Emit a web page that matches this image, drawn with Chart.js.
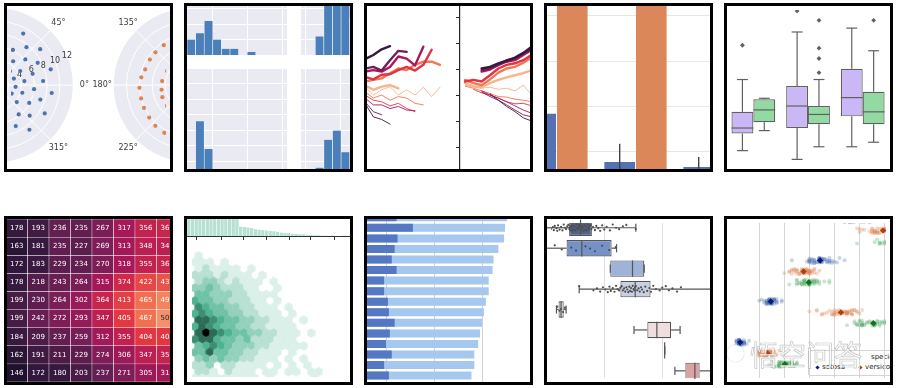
<!DOCTYPE html>
<html lang="en">
<head>
<meta charset="utf-8">
<title>seaborn gallery</title>
<script src="https://cdn.jsdelivr.net/npm/chart.js@4.4.1/dist/chart.umd.min.js"></script>
<style>
  html, body { margin: 0; padding: 0; background: #fff; }
  #page { position: relative; width: 898px; height: 388px; overflow: hidden; }
  .panel { position: absolute; width: 169px; height: 169px; box-sizing: border-box;
           border: 3px solid #000; overflow: hidden; background: #fff; }
  .panel canvas { position: absolute; }
  .legend { position: absolute; left: 81px; top: 131px; width: 120px; height: 24px;
            border: 1px solid #d4d4d4; border-radius: 2px; background: rgba(255,255,255,0.85);
            font: 7px "DejaVu Sans", sans-serif; color: #262626; }
  .legend span { position: absolute; white-space: nowrap; }
  .legend i { position: absolute; width: 3px; height: 3px; transform: rotate(45deg); }
  #logo { position: absolute; left: 727px; top: 345px; width: 13px; height: 13px; border-radius: 50%;
          border: 2px solid rgba(255,255,255,0.85); box-shadow: 0 0 1px rgba(70,70,70,0.6); }
  #mark { position: absolute; left: 750px; top: 334px; font: 28px "Noto Sans CJK SC", sans-serif;
          color: rgba(255,255,255,0.8); -webkit-text-stroke: 0.7px rgba(80,80,80,0.35); }
</style>
</head>
<body>
<div id="page">
  <div class="panel" style="left:4px;top:3px"></div>
  <div class="panel" style="left:184px;top:3px"></div>
  <div class="panel" style="left:364px;top:3px"></div>
  <div class="panel" style="left:544px;top:3px"></div>
  <div class="panel" style="left:724px;top:3px"></div>
  <div class="panel" style="left:4px;top:216px"></div>
  <div class="panel" style="left:184px;top:216px"></div>
  <div class="panel" style="left:364px;top:216px"></div>
  <div class="panel" style="left:544px;top:216px"></div>
  <div class="panel" style="left:724px;top:216px">
    <div class="legend">
      <span style="left:62px;top:2px">species</span>
      <i style="left:7px;top:15px;background:#001c7f"></i><span style="left:13px;top:12px">setosa</span>
      <i style="left:50px;top:15px;background:#b1400d"></i><span style="left:56px;top:12px">versicolor</span>
      <i style="left:100px;top:15px;background:#12711c"></i><span style="left:106px;top:12px">virginica</span>
    </div>
  </div>
  <div id="logo"></div>
  <div id="mark">悟空问答</div>
</div>

<script>
Chart.defaults.font.family = '"DejaVu Sans", sans-serif';

// ---------- data ----------

// 1: polar facets (radius, angle in degrees)
const polarBlueR = [9.1, 7.6, 8.9, 6.1, 6.1, 4.6, 7.4, 8.9, 3.1, 4.4, 6.0, 3.0, 4.5, 7.4, 3.1, 6.0, 8.8, 2.8, 4.3, 4.2, 5.9, 7.3, 5.8, 7.1, 8.8, 7.1, 8.7];
const polarBlueDeg = [62, 51, 39, 64, 41, 54, 28, 16, 45, 30, 17, 20, 8, 5, 355, 354, 352, 332, 344, 321, 332, 342, 308, 318, 330, 296, 307];
const polarOrangeR = [7.5, 7.5, 7.5, 7.5, 7.8, 8.0, 8.0, 8.1, 8.2, 8.4, 8.5, 4.3, 4.5, 4.6, 4.8, 4.9];
const polarOrangeDeg = [124, 137, 148, 161, 171, 183, 195, 206, 218, 229, 241, 149, 172, 189, 203, 221];
const polarRings = [2, 4, 6, 8, 10, 12];
const polarRingLabels = [4, 6, 8, 10, 12];
const polarAngles = [0, 45, 90, 135, 180, 225, 270, 315];

// 2: facet histograms, counts per bin
const histTopLeft = [5, 7, 11, 5, 2, 2, 0, 1];
const histTopRight = [6, 18, 21, 17, 12];
const histBottomLeft = [0, 18, 9];
const histBottomRight = [3, 12, 15, 8];
const histGridLeft = [2.41, 6.48, 10.55];
const histGridRight = [-1.58, 2.49];
const histCountTicks = [5, 10, 15, 20, 25, 30];

// 3: firing rate lines (thick = T1, thin = T2), dark -> light coherence
const timeLeft = [0, 1, 2, 3, 4, 5, 6, 7, 8, 9];
const timeRight = [0, 1, 2, 3, 4, 5, 6, 7, 8];
const rateTicks = [35, 40, 45, 50, 55, 60];
const leftThick = [
  [51.9, 52.7, 53.8, 54.4],
  [50.1, 50.4, 49.7, 51.7, 53.5, 53.3],
  [49.5, 49.8, 49.5, 50.4, 52.4, 52.0, 50.7, 54.3],
  [48.5, 48.0, 48.9, 49.0, 49.8, 50.4, 49.7, 50.8, 53.7],
  [47.6, 47.9, 48.2, 49.2, 50.1, 49.8, 50.8, 51.4, 51.4, 50.8],
  [46.9, 46.0, 46.6, 46.9, 46.3]
];
const leftThin = [
  [43.4, 40.8, 40.3, 39.4],
  [43.7, 41.8, 41.2],
  [44.4, 43.1, 43.1, 42.4, 42.8, 42.1, 42.0],
  [45.0, 44.0, 43.7, 42.9, 43.4, 42.4, 41.8],
  [45.6, 44.4, 45.0, 44.0, 44.7, 44.4, 43.4, 43.1],
  [46.6, 45.0, 46.0, 46.6, 45.0, 46.0, 45.0, 46.5, 44.7, 46.5]
];
const rightThick = [
  [null, null, 50.1, 50.4, 51.1, 51.6, 52.2, 53.1, 54.3],
  [null, null, 49.8, 50.1, 50.8, 51.7, 52.0, 53.0, 53.8],
  [null, null, 49.5, 49.9, 50.8, 51.4, 51.7, 52.7, 53.7],
  [47.6, 47.9, 47.6, 48.8, 50.1, 50.8, 51.1, 51.7, 52.7],
  [47.9, 47.3, 46.9, 48.0, 49.3, 50.1, 50.4, 51.2, 52.2],
  [47.3, 46.7, 46.5, 47.3, 47.9, 48.4, 48.8, 49.2, 49.8]
];
const rightThin = [
  [null, null, null, 45.2, 44.0, 42.8, 41.8, 40.6, 40.0],
  [null, null, 45.6, 44.7, 44.0, 43.1, 42.1, 41.2, 40.8],
  [null, null, 45.8, 45.0, 44.4, 43.7, 42.9, 42.1, 41.5],
  [null, 46.1, 45.4, 45.0, 44.4, 43.7, 43.3, 43.4, 42.9],
  [46.7, 46.3, 45.8, 45.3, 44.7, 44.6, 44.2, 44.0, 43.7],
  [46.9, 46.5, 46.3, 46.5, 46.1, 46.3, 45.8, 46.9, 45.0]
];
const rocketSix = ['#35193e', '#701f57', '#ad1759', '#e13342', '#f37651', '#f6b48f'];

// 4: grouped bars with error bars
const barGroups = ['A', 'B', 'C'];
const barBlue = [1.84, 0.78, 0.67];
const barOrange = [10, 10, 10];
const ciBlueLow = [1.5, 0.35, 0.45], ciBlueHigh = [2.2, 1.18, 0.89];
const ciOrangeLow = [9, 9, 9], ciOrangeHigh = [11, 11, 11];
const barGrid = [1, 2, 3, 4];

// 5: grouped boxplots
const tipDays = ['Thur', 'Fri', 'Sat'];
const smokerQ1 = [11.5, 13.2, 16.8], smokerMed = [13.2, 20.0, 22.6], smokerQ3 = [18.2, 26.2, 31.5];
const smokerLo = [6.2, 3.5, 7.4], smokerHi = [28.2, 42.9, 44.1];
const smokerOut = [[38.8], [49.4], []];
const nonQ1 = [15.0, 14.4, 14.4], nonMed = [18.8, 17.4, 18.2], nonQ3 = [22.1, 20.0, 24.4];
const nonLo = [12.4, 7.4, 8.8], nonHi = [22.4, 28.2, 37.1];
const nonOut = [[], [46.5, 37.9, 34.7, 30.3], [46.5]];

// 6: flights heatmap (years x months)
const flightYears = ['1951', '1952', '1953', '1954', '1955', '1956', '1957', '1958'];
const flightMonths = ['Mar', 'Apr', 'May', 'Jun', 'Jul', 'Aug', 'Sep', 'Oct', 'Nov'];
const flightsMar = [178, 193, 236, 235, 267, 317, 356, 362];
const flightsApr = [163, 181, 235, 227, 269, 313, 348, 348];
const flightsMay = [172, 183, 229, 234, 270, 318, 355, 363];
const flightsJun = [178, 218, 243, 264, 315, 374, 422, 435];
const flightsJul = [199, 230, 264, 302, 364, 413, 465, 491];
const flightsAug = [199, 242, 272, 293, 347, 405, 467, 505];
const flightsSep = [184, 209, 237, 259, 312, 355, 404, 404];
const flightsOct = [162, 191, 211, 229, 274, 306, 347, 359];
const flightsNov = [146, 172, 180, 203, 237, 271, 305, 310];
const flightsMin = 104, flightsMax = 622;

// 7: hexbin counts (rows top->bottom, columns left->right) and marginal histogram
const hexCounts = [
  [0, 0, 0, 0, 0, 0, 0, 0, 0, 0, 0, 0, 0, 0, 0, 0, 0],
  [1, 0, 0, 0, 0, 0, 0, 0, 0, 0, 0, 0, 0, 0, 0, 0, 0],
  [1, 1, 1, 0, 1, 0, 0, 0, 0, 0, 0, 0, 0, 0, 0, 0, 0],
  [1, 2, 1, 1, 1, 1, 0, 1, 0, 0, 0, 0, 0, 0, 0, 0, 0],
  [2, 2, 2, 1, 2, 1, 1, 1, 0, 1, 0, 0, 0, 0, 0, 0, 0],
  [2, 3, 3, 2, 1, 2, 1, 1, 1, 0, 1, 0, 0, 0, 0, 0, 0],
  [3, 3, 4, 3, 2, 2, 2, 1, 1, 0, 0, 1, 0, 0, 0, 0, 0],
  [4, 4, 3, 3, 3, 2, 2, 1, 1, 1, 1, 0, 0, 0, 0, 0, 0],
  [5, 4, 4, 3, 3, 2, 2, 2, 1, 1, 0, 1, 0, 0, 0, 0, 0],
  [6, 5, 4, 4, 3, 3, 2, 2, 1, 1, 1, 0, 1, 0, 0, 0, 0],
  [5, 6, 5, 4, 4, 3, 3, 2, 2, 1, 1, 1, 0, 1, 0, 0, 0],
  [7, 7, 6, 5, 4, 4, 3, 3, 2, 2, 1, 1, 1, 0, 1, 0, 0],
  [5, 7, 6, 5, 4, 4, 3, 3, 2, 2, 1, 1, 1, 1, 0, 0, 0],
  [7, 10, 7, 6, 5, 4, 4, 3, 3, 2, 2, 1, 1, 1, 0, 1, 0],
  [6, 7, 7, 5, 4, 4, 3, 4, 2, 2, 2, 1, 1, 1, 0, 0, 0],
  [4, 5, 6, 5, 4, 3, 3, 3, 2, 2, 1, 1, 1, 1, 1, 0, 0],
  [4, 4, 7, 4, 4, 3, 3, 2, 2, 1, 1, 1, 0, 1, 0, 0, 0],
  [3, 4, 3, 4, 3, 3, 2, 2, 1, 1, 1, 0, 1, 0, 1, 0, 0],
  [2, 2, 3, 0, 2, 2, 1, 1, 1, 1, 0, 1, 0, 1, 0, 1, 0],
  [2, 2, 1, 0, 2, 1, 1, 1, 0, 1, 1, 0, 1, 1, 0, 1, 1],
  [1, 1, 1, 1, 1, 1, 1, 1, 1, 0, 1, 0, 0, 0, 0, 0, 1]
];
const hexMax = 10;
const margCounts = [60, 72, 80, 85, 88, 90, 86, 84, 80, 76, 70, 64, 55, 48, 22, 21, 20, 19, 16, 15, 14, 13,
  12, 11, 10, 8, 7, 7, 5, 5, 4, 4, 3, 3, 2, 2, 1, 1, 0, 1, 0, 0, 1, 0];
const margTicks = [2.7, 9.19, 15.14, 21.35, 27.57, 33.51, 39.73];

// 8: horizontal bars
const crashStates = ['ND', 'SC', 'WV', 'AR', 'KY', 'MT', 'LA', 'OK', 'TN', 'SD', 'TX', 'AL', 'AZ', 'NM', 'PA', 'AK', 'FL', 'KS'];
const crashTotal = [22.5, 22.3, 22.2, 21.6, 21.1, 21.0, 20.6, 20.6, 20.3, 20.1, 19.9, 19.7, 19.5, 19.1, 19.1, 18.8, 18.5, 18.3];
const crashAlcohol = [11.0, 12.7, 11.1, 10.8, 10.5, 11.0, 9.7, 9.7, 10.1, 10.2, 10.8, 10.3, 9.9, 10.5, 9.7, 10.2, 9.8, 10.0];
const crashGrid = [5, 10, 15, 20];

// 9: horizontal boxplots on a log axis, with observations
const planetMethods = ['Radial Velocity', 'Transit', 'Imaging', 'Microlensing', 'Astrometry', 'Eclipse Timing', 'Pulsation Timing', 'Orbital Brightness'];
const planetLo = [0.8, 0.9, 12.7, 3.7, 1.5, 32.6, 110, 165];
const planetQ1 = [2.48, 2.24, 12.7, 19.0, 1.63, 55.3, 110, 250];
const planetMed = [3.9, 4.1, 30.7, 34.2, 1.8, 80.7, 110, 365];
const planetQ3 = [6.12, 13.4, 48.9, 62.8, 2.0, 142, 110, 441];
const planetHi = [35, 16.3, 48.9, 1500, 2.2, 203, 110, 900];
const planetObs0 = [1.1, 1.2, 1.3, 1.35, 1.4, 1.5, 1.55, 1.6, 1.7, 1.8, 1.9, 2.0, 2.1, 2.2, 2.3, 2.4, 2.5, 2.55, 2.6, 2.7, 2.75, 2.8,
  2.9, 3.0, 3.1, 3.2, 3.3, 3.4, 3.5, 3.6, 3.7, 3.8, 3.9, 4.0, 4.1, 4.25, 4.4, 4.55, 4.7, 4.85, 5.0, 5.15, 5.3, 5.45, 5.6, 5.8, 6.0,
  6.4, 6.9, 7.3, 7.9, 8.5, 9.2, 10, 11, 12.5, 14, 16, 18, 21, 24, 35];
const planetObs1 = [1.4, 1.85, 2.7, 3.26, 4.75, 5.7, 6.9, 9.2, 12.2, 15.8];
const planetObs3 = [3.7, 6.5, 7.5, 8.5, 9.5, 10.5, 11.5, 12.3, 13, 14, 15, 16, 17, 18, 19, 20, 21, 22, 23, 24, 25, 26, 27, 28,
  29, 30, 31, 32, 33, 34, 35, 37, 39, 41, 43, 45, 48, 51, 55, 60, 64, 70, 78, 90, 100, 115, 130, 150, 180, 210];
const planetObs4 = [1.55, 1.7, 1.8, 1.95, 2.1];
const planetColors = ['#52648e', '#7492c8', '#9fb2d8', '#c8cfe3', '#dcdce4', '#f0dede', '#e3bcbb', '#d9a3a1'];
const planetGrid = [10, 100];

// 10: iris measurements, strips + means
const irisMeasures = ['sepal_length', 'sepal_width', 'petal_length', 'petal_width'];
const setosaSepalLength = [5.1, 4.9, 4.7, 4.6, 5.0, 5.4, 4.6, 5.0, 4.4, 4.9, 5.4, 4.8, 4.8, 4.3, 5.8, 5.7, 5.4, 5.1, 5.7, 5.1, 5.4, 5.1, 4.6, 5.1, 4.8, 5.0, 5.0, 5.2, 5.2, 4.7, 4.8, 5.4, 5.2, 5.5, 4.9, 5.0, 5.5, 4.9, 4.4, 5.1, 5.0, 4.5, 4.4, 5.0, 5.1, 4.8, 5.1, 4.6, 5.3, 5.0];
const setosaSepalWidth = [3.5, 3.0, 3.2, 3.1, 3.6, 3.9, 3.4, 3.4, 2.9, 3.1, 3.7, 3.4, 3.0, 3.0, 4.0, 4.4, 3.9, 3.5, 3.8, 3.8, 3.4, 3.7, 3.6, 3.3, 3.4, 3.0, 3.4, 3.5, 3.4, 3.2, 3.1, 3.4, 4.1, 4.2, 3.1, 3.2, 3.5, 3.6, 3.0, 3.4, 3.5, 2.3, 3.2, 3.5, 3.8, 3.0, 3.8, 3.2, 3.7, 3.3];
const setosaPetalLength = [1.4, 1.4, 1.3, 1.5, 1.4, 1.7, 1.4, 1.5, 1.4, 1.5, 1.5, 1.6, 1.4, 1.1, 1.2, 1.5, 1.3, 1.4, 1.7, 1.5, 1.7, 1.5, 1.0, 1.7, 1.9, 1.6, 1.6, 1.5, 1.4, 1.6, 1.6, 1.5, 1.5, 1.4, 1.5, 1.2, 1.3, 1.4, 1.3, 1.5, 1.3, 1.3, 1.3, 1.6, 1.9, 1.4, 1.6, 1.4, 1.5, 1.4];
const setosaPetalWidth = [0.2, 0.2, 0.2, 0.2, 0.2, 0.4, 0.3, 0.2, 0.2, 0.1, 0.2, 0.2, 0.1, 0.1, 0.2, 0.4, 0.4, 0.3, 0.3, 0.3, 0.2, 0.4, 0.2, 0.5, 0.2, 0.2, 0.4, 0.2, 0.2, 0.2, 0.2, 0.4, 0.1, 0.2, 0.2, 0.2, 0.2, 0.1, 0.2, 0.2, 0.3, 0.3, 0.2, 0.6, 0.4, 0.3, 0.2, 0.2, 0.2, 0.2];
const versicolorSepalLength = [7.0, 6.4, 6.9, 5.5, 6.5, 5.7, 6.3, 4.9, 6.6, 5.2, 5.0, 5.9, 6.0, 6.1, 5.6, 6.7, 5.6, 5.8, 6.2, 5.6, 5.9, 6.1, 6.3, 6.1, 6.4, 6.6, 6.8, 6.7, 6.0, 5.7, 5.5, 5.5, 5.8, 6.0, 5.4, 6.0, 6.7, 6.3, 5.6, 5.5, 5.5, 6.1, 5.8, 5.0, 5.6, 5.7, 5.7, 6.2, 5.1, 5.7];
const versicolorSepalWidth = [3.2, 3.2, 3.1, 2.3, 2.8, 2.8, 3.3, 2.4, 2.9, 2.7, 2.0, 3.0, 2.2, 2.9, 2.9, 3.1, 3.0, 2.7, 2.2, 2.5, 3.2, 2.8, 2.5, 2.8, 2.9, 3.0, 2.8, 3.0, 2.9, 2.6, 2.4, 2.4, 2.7, 2.7, 3.0, 3.4, 3.1, 2.3, 3.0, 2.5, 2.6, 3.0, 2.6, 2.3, 2.7, 3.0, 2.9, 2.9, 2.5, 2.8];
const versicolorPetalLength = [4.7, 4.5, 4.9, 4.0, 4.6, 4.5, 4.7, 3.3, 4.6, 3.9, 3.5, 4.2, 4.0, 4.7, 3.6, 4.4, 4.5, 4.1, 4.5, 3.9, 4.8, 4.0, 4.9, 4.7, 4.3, 4.4, 4.8, 5.0, 4.5, 3.5, 3.8, 3.7, 3.9, 5.1, 4.5, 4.5, 4.7, 4.4, 4.1, 4.0, 4.4, 4.6, 4.0, 3.3, 4.2, 4.2, 4.2, 4.3, 3.0, 4.1];
const versicolorPetalWidth = [1.4, 1.5, 1.5, 1.3, 1.5, 1.3, 1.6, 1.0, 1.3, 1.4, 1.0, 1.5, 1.0, 1.4, 1.3, 1.4, 1.5, 1.0, 1.5, 1.1, 1.8, 1.3, 1.5, 1.2, 1.3, 1.4, 1.4, 1.7, 1.5, 1.0, 1.1, 1.0, 1.2, 1.6, 1.5, 1.6, 1.5, 1.3, 1.3, 1.3, 1.2, 1.4, 1.2, 1.0, 1.3, 1.2, 1.3, 1.3, 1.1, 1.3];
const virginicaSepalLength = [6.3, 5.8, 7.1, 6.3, 6.5, 7.6, 4.9, 7.3, 6.7, 7.2, 6.5, 6.4, 6.8, 5.7, 5.8, 6.4, 6.5, 7.7, 7.7, 6.0, 6.9, 5.6, 7.7, 6.3, 6.7, 7.2, 6.2, 6.1, 6.4, 7.2, 7.4, 7.9, 6.4, 6.3, 6.1, 7.7, 6.3, 6.4, 6.0, 6.9, 6.7, 6.9, 5.8, 6.8, 6.7, 6.7, 6.3, 6.5, 6.2, 5.9];
const virginicaSepalWidth = [3.3, 2.7, 3.0, 2.9, 3.0, 3.0, 2.5, 2.9, 2.5, 3.6, 3.2, 2.7, 3.0, 2.5, 2.8, 3.2, 3.0, 3.8, 2.6, 2.2, 3.2, 2.8, 2.8, 2.7, 3.3, 3.2, 2.8, 3.0, 2.8, 3.0, 2.8, 3.8, 2.8, 2.8, 2.6, 3.0, 3.4, 3.1, 3.0, 3.1, 3.1, 3.1, 2.7, 3.2, 3.3, 3.0, 2.5, 3.0, 3.4, 3.0];
const virginicaPetalLength = [6.0, 5.1, 5.9, 5.6, 5.8, 6.6, 4.5, 6.3, 5.8, 6.1, 5.1, 5.3, 5.5, 5.0, 5.1, 5.3, 5.5, 6.7, 6.9, 5.0, 5.7, 4.9, 6.7, 4.9, 5.7, 6.0, 4.8, 4.9, 5.6, 5.8, 6.1, 6.4, 5.6, 5.1, 5.6, 6.1, 5.6, 5.5, 4.8, 5.4, 5.6, 5.1, 5.1, 5.9, 5.7, 5.2, 5.0, 5.2, 5.4, 5.1];
const virginicaPetalWidth = [2.5, 1.9, 2.1, 1.8, 2.2, 2.1, 1.7, 1.8, 1.8, 2.5, 2.0, 1.9, 2.1, 2.0, 2.4, 2.3, 1.8, 2.2, 2.3, 1.5, 2.3, 2.0, 2.0, 1.8, 2.1, 1.8, 1.8, 1.8, 2.1, 1.6, 1.9, 2.0, 2.2, 1.5, 1.4, 2.3, 2.4, 1.8, 1.8, 2.1, 2.4, 2.3, 1.9, 2.3, 2.5, 2.3, 1.9, 2.0, 2.3, 1.8];
const irisGrid = [1, 2, 3, 4, 5, 6];

// ---------- helpers ----------
const panels = document.querySelectorAll('.panel');

function canvasIn(p, left, top, w, h) {
  const c = document.createElement('canvas');
  c.width = w; c.height = h;
  c.style.left = left + 'px'; c.style.top = top + 'px';
  c.style.width = w + 'px'; c.style.height = h + 'px';
  panels[p].appendChild(c);
  return c;
}

function baseOptions(scales, extra) {
  return Object.assign({
    responsive: false, animation: false, events: [], devicePixelRatio: 1,
    layout: { padding: 0 },
    plugins: { legend: { display: false }, tooltip: { enabled: false } },
    scales
  }, extra || {});
}

// linear axes never get the bar-chart "offset" padding here
function hiddenAxis(min, max, extra) {
  return Object.assign({ type: 'linear', display: false, min, max, offset: false,
    afterBuildTicks: s => { s.ticks = []; } }, extra || {});
}

function gridAxis(min, max, at, color, extra) {
  return Object.assign({ type: 'linear', display: true, min, max, offset: false,
    afterBuildTicks: s => { s.ticks = at.map(v => ({ value: v })); },
    ticks: { display: false }, border: { display: false },
    grid: { color, lineWidth: 1, drawTicks: false, offset: false } }, extra || {});
}

const facetBg = {
  id: 'facetBg',
  beforeDraw(chart) {
    const { ctx, chartArea: a } = chart;
    ctx.save();
    ctx.fillStyle = '#eaeaf2';
    ctx.fillRect(a.left, a.top, a.right - a.left, a.bottom - a.top);
    ctx.restore();
  }
};

function boxLines(sets, horizontal, color) {
  return {
    id: 'boxLines',
    afterDatasetsDraw(chart) {
      const { ctx } = chart;
      const vs = horizontal ? chart.scales.x : chart.scales.y;
      const P = v => vs.getPixelForValue(v);
      const seg = (a1, b1, a2, b2) => {
        ctx.beginPath();
        if (horizontal) { ctx.moveTo(a1, b1); ctx.lineTo(a2, b2); }
        else { ctx.moveTo(b1, a1); ctx.lineTo(b2, a2); }
        ctx.stroke();
      };
      ctx.save();
      ctx.strokeStyle = color; ctx.lineWidth = 1.2;
      sets.forEach(([di, s]) => {
        chart.getDatasetMeta(di).data.forEach((el, i) => {
          const c = horizontal ? el.y : el.x;
          const half = (horizontal ? el.height : el.width) / 2;
          seg(P(s.lo[i]), c, P(s.q1[i]), c);
          seg(P(s.q3[i]), c, P(s.hi[i]), c);
          seg(P(s.lo[i]), c - half / 2, P(s.lo[i]), c + half / 2);
          seg(P(s.hi[i]), c - half / 2, P(s.hi[i]), c + half / 2);
          seg(P(s.med[i]), c - half, P(s.med[i]), c + half);
        });
      });
      ctx.restore();
    }
  };
}

// ---------- 1: polar scatter facets ----------
const polarCenters = [0, 30.37];
function polarPoints(rs, degs, cx) {
  return rs.map((r, i) => ({ x: cx + r * Math.cos(degs[i] * Math.PI / 180), y: r * Math.sin(degs[i] * Math.PI / 180) }));
}
const polarGrid = {
  id: 'polarGrid',
  beforeDatasetsDraw(chart) {
    const { ctx, scales: { x, y } } = chart;
    const u = x.getPixelForValue(1) - x.getPixelForValue(0);
    const outer = polarRings[polarRings.length - 1];
    ctx.save();
    polarCenters.forEach(c => {
      const cx = x.getPixelForValue(c), cy = y.getPixelForValue(0);
      ctx.fillStyle = '#eaeaf2';
      ctx.beginPath(); ctx.arc(cx, cy, outer * u, 0, 2 * Math.PI); ctx.fill();
      ctx.strokeStyle = '#fff'; ctx.lineWidth = 1;
      polarRings.slice(0, -1).forEach(r => { ctx.beginPath(); ctx.arc(cx, cy, r * u, 0, 2 * Math.PI); ctx.stroke(); });
      polarAngles.forEach(a => {
        const t = a * Math.PI / 180;
        ctx.beginPath(); ctx.moveTo(cx, cy);
        ctx.lineTo(cx + outer * u * Math.cos(t), cy - outer * u * Math.sin(t)); ctx.stroke();
      });
      ctx.fillStyle = '#3a3a3a'; ctx.font = '8px "DejaVu Sans"';
      ctx.textAlign = 'center'; ctx.textBaseline = 'middle';
      polarAngles.forEach(a => {
        const t = a * Math.PI / 180, d = 13.8 * u;
        ctx.fillText(a + '°', cx + d * Math.cos(t), cy - d * Math.sin(t));
      });
      const t = 22.5 * Math.PI / 180;
      polarRingLabels.forEach(r => ctx.fillText(String(r), cx + r * u * Math.cos(t), cy - r * u * Math.sin(t)));
    });
    ctx.restore();
  }
};
new Chart(canvasIn(0, 0, 0, 163, 163), {
  type: 'scatter',
  data: { datasets: [
    { data: polarPoints(polarBlueR, polarBlueDeg, polarCenters[0]), backgroundColor: '#4c72b0', borderWidth: 0, pointRadius: 2.1 },
    { data: polarPoints(polarOrangeR, polarOrangeDeg, polarCenters[1]), backgroundColor: '#dd8452', borderWidth: 0, pointRadius: 2.1 }
  ] },
  options: baseOptions({ x: hiddenAxis(2.37, 26.52), y: hiddenAxis(-12.44, 11.70) }),
  plugins: [polarGrid]
});

// ---------- 2: facet histograms ----------
function facetHist(left, top, w, h, counts, xmin, ymin, xgrid, ygrid) {
  new Chart(canvasIn(1, left, top, w, h), {
    type: 'bar',
    data: { datasets: [{
      data: counts.map((v, i) => ({ x: i, y: v })),
      backgroundColor: '#4a7fb9', borderColor: '#ffffff',
      borderWidth: { left: 0.6, right: 0.6, top: 0 }, categoryPercentage: 1, barPercentage: 1
    }] },
    options: baseOptions({
      x: gridAxis(xmin, xmin + w / 8.6, xgrid, '#ffffff'),
      y: gridAxis(ymin, ymin + h / 3.1, ygrid, '#ffffff')
    }),
    plugins: [facetBg]
  });
}
facetHist(0, 0, 100, 49, histTopLeft, -0.5, 0, histGridLeft, histCountTicks);
facetHist(114, 0, 49, 49, histTopRight, -2.16, 0, histGridRight, histCountTicks);
facetHist(0, 63, 100, 100, histBottomLeft, -0.5, 2.58, histGridLeft, histCountTicks);
facetHist(114, 63, 49, 100, histBottomRight, -2.16, 2.58, histGridRight, histCountTicks);

// ---------- 3: multi-line facets ----------
function lineSets(thick, thin, times) {
  const mk = (arr, width, color) => ({
    data: arr.map((v, k) => ({ x: times[k], y: v })),
    borderColor: color, borderWidth: width, pointRadius: 0, tension: 0,
    borderJoinStyle: 'round', borderCapStyle: 'round'
  });
  return thick.map((a, i) => mk(a, 2.4, rocketSix[i]))
    .concat(thin.map((a, i) => mk(a, 0.9, rocketSix[i])));
}
new Chart(canvasIn(2, 0, 0, 92, 163), {
  type: 'line',
  data: { datasets: lineSets(leftThick, leftThin, timeLeft) },
  options: baseOptions({ x: hiddenAxis(0.24, 11.28), y: hiddenAxis(30.77, 62.12) })
});
new Chart(canvasIn(2, 89, 0, 74, 163), {
  type: 'line',
  data: { datasets: lineSets(rightThick, rightThin, timeRight) },
  options: baseOptions({
    x: hiddenAxis(-0.6, 7.8),
    y: { type: 'linear', position: 'left', display: true, min: 30.77, max: 62.12, offset: false,
         afterBuildTicks: s => { s.ticks = rateTicks.map(v => ({ value: v })); },
         ticks: { display: false },
         border: { display: true, color: '#262626', width: 1.2 },
         grid: { drawOnChartArea: false, drawTicks: true, tickLength: 4, color: '#262626', lineWidth: 1 } }
  })
});

// ---------- 4: grouped bars ----------
const errorBars = {
  id: 'errorBars',
  afterDatasetsDraw(chart) {
    const { ctx, scales: { y } } = chart;
    ctx.save(); ctx.strokeStyle = '#424242'; ctx.lineWidth = 1.4;
    [[ciBlueLow, ciBlueHigh], [ciOrangeLow, ciOrangeHigh]].forEach(([lo, hi], d) => {
      chart.getDatasetMeta(d).data.forEach((el, i) => {
        ctx.beginPath();
        ctx.moveTo(el.x, y.getPixelForValue(lo[i]));
        ctx.lineTo(el.x, y.getPixelForValue(hi[i]));
        ctx.stroke();
      });
    });
    ctx.restore();
  }
};
new Chart(canvasIn(3, 0, 0, 163, 163), {
  type: 'bar',
  data: { datasets: [
    { data: barGroups.map((g, i) => ({ x: i, y: barBlue[i] })), backgroundColor: '#5471b4', categoryPercentage: 0.8, barPercentage: 0.97 },
    { data: barGroups.map((g, i) => ({ x: i, y: barOrange[i] })), backgroundColor: '#dc8759', categoryPercentage: 0.8, barPercentage: 0.97 }
  ] },
  options: baseOptions({ x: hiddenAxis(-0.12, 1.943), y: gridAxis(0.626, 4.209, barGrid, '#e6e6e6') }),
  plugins: [errorBars]
});

// ---------- 5: grouped boxplots ----------
const boxOutliers = [];
tipDays.forEach((d, i) => {
  smokerOut[i].forEach(v => boxOutliers.push({ x: i - 0.2, y: v }));
  nonOut[i].forEach(v => boxOutliers.push({ x: i + 0.2, y: v }));
});
new Chart(canvasIn(4, 0, 0, 163, 163), {
  type: 'bar',
  data: { datasets: [
    { data: tipDays.map((d, i) => ({ x: i, y: [smokerQ1[i], smokerQ3[i]] })), backgroundColor: '#c9b8f5',
      borderColor: '#606060', borderWidth: 1.2, borderSkipped: false, categoryPercentage: 0.8, barPercentage: 1 },
    { data: tipDays.map((d, i) => ({ x: i, y: [nonQ1[i], nonQ3[i]] })), backgroundColor: '#92d9a2',
      borderColor: '#606060', borderWidth: 1.2, borderSkipped: false, categoryPercentage: 0.8, barPercentage: 1 },
    { type: 'scatter', data: boxOutliers, pointStyle: 'rectRot', pointRadius: 2.4, backgroundColor: '#606060', borderWidth: 0 }
  ] },
  options: baseOptions({ x: hiddenAxis(-0.409, 2.426), y: hiddenAxis(1.76, 49.7) }),
  plugins: [boxLines([
    [0, { lo: smokerLo, q1: smokerQ1, med: smokerMed, q3: smokerQ3, hi: smokerHi }],
    [1, { lo: nonLo, q1: nonQ1, med: nonMed, q3: nonQ3, hi: nonHi }]
  ], false, '#606060')]
});

// ---------- 6: annotated heatmap ----------
const rocketStops = ['#03051a', '#35193e', '#701f57', '#ad1759', '#e13342', '#f37651', '#f6b48f', '#faebdd'];
const hexRgb = h => [1, 3, 5].map(k => parseInt(h.substr(k, 2), 16));
function rocket(t) {
  t = Math.max(0, Math.min(1, t));
  const n = rocketStops.length - 1, k = Math.min(n - 1, Math.floor(t * n)), f = t * n - k;
  const a = hexRgb(rocketStops[k]), b = hexRgb(rocketStops[k + 1]);
  return a.map((v, i) => Math.round(v + (b[i] - v) * f));
}
function luminance(rgb) {
  const lin = rgb.map(v => { v /= 255; return v <= 0.03928 ? v / 12.92 : Math.pow((v + 0.055) / 1.055, 2.4); });
  return 0.2126 * lin[0] + 0.7152 * lin[1] + 0.0722 * lin[2];
}
const flightRows = [flightsMar, flightsApr, flightsMay, flightsJun, flightsJul, flightsAug, flightsSep, flightsOct, flightsNov];
const cellRgb = v => rocket((v - flightsMin) / (flightsMax - flightsMin));
const heatLabels = {
  id: 'heatLabels',
  afterDatasetsDraw(chart) {
    const { ctx } = chart;
    ctx.save();
    ctx.font = '7px "DejaVu Sans"'; ctx.textAlign = 'center'; ctx.textBaseline = 'middle';
    flightRows.forEach((row, r) => {
      chart.getDatasetMeta(r).data.forEach((el, c) => {
        ctx.fillStyle = luminance(cellRgb(row[c])) > 0.38 ? '#262626' : '#ffffff';
        ctx.fillText(String(row[c]), el.x, (el.y + el.base) / 2);
      });
    });
    ctx.restore();
  }
};
new Chart(canvasIn(5, -1, 0, 172, 163), {
  type: 'bar',
  data: {
    labels: flightYears,
    datasets: flightRows.map((row, r) => ({
      label: flightMonths[r],
      data: row.map(() => 1),
      backgroundColor: row.map(v => 'rgb(' + cellRgb(v).join(',') + ')'),
      borderColor: '#ffffff', borderWidth: 0.5, borderSkipped: false,
      categoryPercentage: 1, barPercentage: 1
    }))
  },
  options: baseOptions({
    x: { type: 'category', display: false, stacked: true },
    y: hiddenAxis(0, 9, { reverse: true, stacked: true })
  }),
  plugins: [heatLabels]
});

// ---------- 7: hexbin with marginal ----------
function hexImage(level) {
  const c = document.createElement('canvas');
  c.width = 9; c.height = 10;
  const g = c.getContext('2d'), R = 4.75;
  g.fillStyle = 'hsl(160, 40%, ' + (100 - 100 * level / hexMax) + '%)';
  g.beginPath();
  for (let k = 0; k < 6; k++) {
    const a = (30 + 60 * k) * Math.PI / 180;
    g.lineTo(4.5 + R * Math.cos(a), 5 - R * Math.sin(a));
  }
  g.closePath(); g.fill();
  return c;
}
const hexImages = [];
for (let v = 0; v <= hexMax; v++) hexImages.push(hexImage(v));
const hexPoints = [], hexStyles = [];
hexCounts.forEach((row, r) => row.forEach((v, c) => {
  if (v > 0) { hexPoints.push({ x: c + (r % 2) * 0.5, y: r }); hexStyles.push(hexImages[v]); }
}));
new Chart(canvasIn(6, 0, 22, 163, 141), {
  type: 'scatter',
  data: { datasets: [{ data: hexPoints, pointStyle: hexStyles, pointRadius: 5, borderWidth: 0 }] },
  options: baseOptions({ x: hiddenAxis(-0.375, 20), y: hiddenAxis(-0.505, 19.84, { reverse: true }) })
});
new Chart(canvasIn(6, 0, 0, 163, 21), {
  type: 'bar',
  data: { datasets: [{
    data: margCounts.map((v, i) => ({ x: i + 0.5, y: v })),
    backgroundColor: 'rgba(76,179,145,0.4)', borderColor: '#ffffff',
    borderWidth: { left: 0.5, right: 0.5, top: 0 }, categoryPercentage: 1, barPercentage: 1
  }] },
  options: baseOptions({
    x: { type: 'linear', position: 'bottom', display: true, min: 0, max: 44.05, offset: false,
         afterBuildTicks: s => { s.ticks = margTicks.map(v => ({ value: v })); },
         ticks: { display: false },
         border: { display: true, color: '#333333', width: 1 },
         grid: { drawOnChartArea: false, drawTicks: true, tickLength: 4, color: '#333333', lineWidth: 1, offset: false } },
    y: hiddenAxis(0, 40)
  })
});

// ---------- 8: horizontal overlaid bars ----------
new Chart(canvasIn(7, -76, -7, 239, 190), {
  type: 'bar',
  data: {
    labels: crashStates,
    datasets: [
      { label: 'Alcohol-involved', data: crashAlcohol, backgroundColor: '#5577c4', categoryPercentage: 1, barPercentage: 0.76, grouped: false },
      { label: 'Total', data: crashTotal, backgroundColor: '#a6c7ee', categoryPercentage: 1, barPercentage: 0.76, grouped: false }
    ]
  },
  options: baseOptions({
    x: gridAxis(0, 24.9, crashGrid, '#d2d2d2'),
    y: { type: 'category', display: false }
  }, { indexAxis: 'y' })
});

// ---------- 9: horizontal boxplots, log scale ----------
const stripJitter = [-0.14, 0.06, -0.03, 0.12, -0.09, 0.02, 0.15, -0.12, 0.09, -0.05, 0.13, -0.16, 0.0, 0.07, -0.07];
const planetPoints = [];
[[0, planetObs0], [1, planetObs1], [3, planetObs3], [4, planetObs4]].forEach(([row, obs]) => {
  obs.forEach((v, j) => planetPoints.push({ x: v, y: row + stripJitter[j % stripJitter.length] }));
});
new Chart(canvasIn(8, 0, 0, 163, 163), {
  type: 'bar',
  data: { datasets: [
    { type: 'scatter', data: planetPoints, pointRadius: 1.1, backgroundColor: '#4d4d4d', borderWidth: 0 },
    { indexAxis: 'y', data: planetMethods.map((m, i) => ({ y: i, x: [planetQ1[i], planetQ3[i]] })),
      backgroundColor: planetColors, borderColor: '#555555', borderWidth: 1.1, borderSkipped: false,
      categoryPercentage: 0.8, barPercentage: 1 }
  ] },
  options: baseOptions({
    x: { type: 'logarithmic', display: true, min: 1.208, max: 567.6, offset: false,
         afterBuildTicks: s => { s.ticks = planetGrid.map(v => ({ value: v })); },
         ticks: { display: false }, border: { display: false },
         grid: { color: '#e0e0e0', lineWidth: 1, drawTicks: false, offset: false } },
    y: hiddenAxis(-0.233, 7.35, { reverse: true })
  }),
  plugins: [boxLines([[1, { lo: planetLo, q1: planetQ1, med: planetMed, q3: planetQ3, hi: planetHi }]], true, '#555555')]
});

// ---------- 10: strips with conditional means ----------
const irisSpecies = [
  { cols: [setosaSepalLength, setosaSepalWidth, setosaPetalLength, setosaPetalWidth], light: 'rgba(76,114,176,0.3)', dark: '#001c7f' },
  { cols: [versicolorSepalLength, versicolorSepalWidth, versicolorPetalLength, versicolorPetalWidth], light: 'rgba(221,132,82,0.3)', dark: '#b1400d' },
  { cols: [virginicaSepalLength, virginicaSepalWidth, virginicaPetalLength, virginicaPetalWidth], light: 'rgba(85,168,104,0.3)', dark: '#12711c' }
];
const hueOffset = [-0.267, 0, 0.267];
const irisJitter = [-0.05, 0.03, -0.01, 0.06, -0.04, 0.01, 0.05, -0.06, 0.02, -0.02, 0.04, -0.03, 0.0];
const meanSets = irisSpecies.map((sp, s) => ({
  data: sp.cols.map((col, m) => ({ x: col.reduce((a, b) => a + b, 0) / col.length, y: m + hueOffset[s] })),
  pointStyle: 'rectRot', pointRadius: 3.2, backgroundColor: sp.dark, borderWidth: 0
}));
const stripSets = irisSpecies.map((sp, s) => ({
  data: [].concat(...sp.cols.map((col, m) => col.map((v, j) => ({ x: v, y: m + hueOffset[s] + irisJitter[j % irisJitter.length] })))),
  pointRadius: 2, backgroundColor: sp.light, borderWidth: 0
}));
new Chart(canvasIn(9, 0, 0, 163, 163), {
  type: 'scatter',
  data: { datasets: meanSets.concat(stripSets) },
  options: baseOptions({
    x: gridAxis(-0.121, 6.053, irisGrid, '#d6d6d6'),
    y: hiddenAxis(-0.186, 3.605, { reverse: true })
  })
});
</script>
</body>
</html>
